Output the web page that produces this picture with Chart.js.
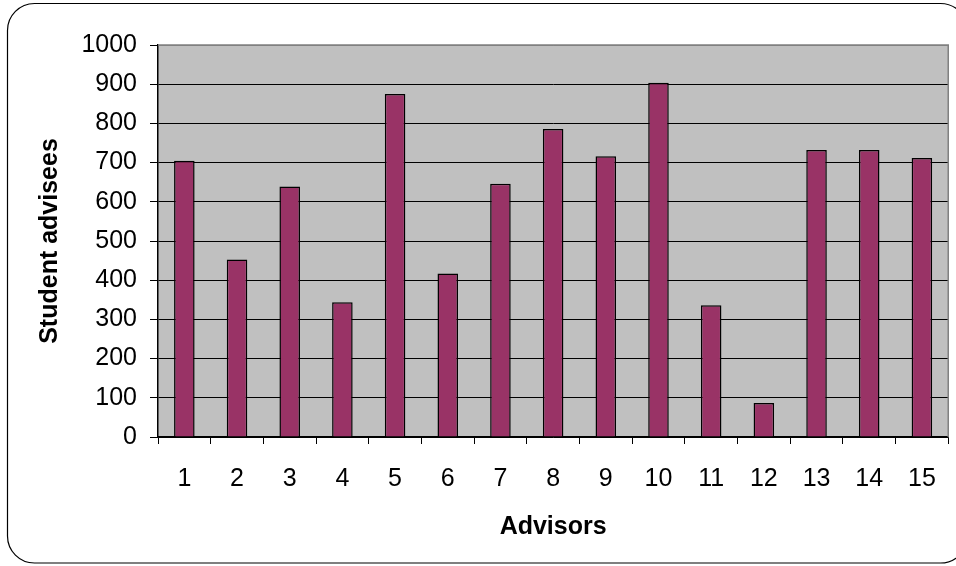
<!DOCTYPE html>
<html>
<head>
<meta charset="utf-8">
<script src="https://cdn.jsdelivr.net/npm/chart.js@4"></script>
<style>
  html, body { margin: 0; padding: 0; background: #fff; }
  #wrap { width: 956px; height: 566px; }
</style>
</head>
<body>
<div id="wrap"><canvas id="adviseeChart" width="956" height="566"></canvas></div>
<script>
// advisor numbers and how many students each one advises
const advisors = ["1", "2", "3", "4", "5", "6", "7", "8", "9", "10", "11", "12", "13", "14", "15"];
const advisees = [705, 453, 639, 344, 875, 417, 646, 786, 716, 904, 336, 87, 732, 732, 712];
const yTicks = [0, 100, 200, 300, 400, 500, 600, 700, 800, 900, 1000];

const FONT = "Arial, 'Liberation Sans', sans-serif";

// white page, grey plot area, rounded outer frame
const backdrop = {
    id: "backdrop",
    beforeDraw(chart) {
        const ctx = chart.ctx;
        const a = chart.chartArea;
        ctx.save();
        ctx.fillStyle = "#ffffff";
        ctx.fillRect(0, 0, chart.width, chart.height);
        ctx.fillStyle = "#c0c0c0";
        ctx.fillRect(a.left, a.top, a.right - a.left, a.bottom - a.top);
        ctx.restore();
    },
    afterDraw(chart) {
        const ctx = chart.ctx;
        const a = chart.chartArea;
        ctx.save();
        // plot area top/right edge
        ctx.strokeStyle = "#808080";
        ctx.lineWidth = 1.5;
        ctx.beginPath();
        ctx.moveTo(a.left, a.top);
        ctx.lineTo(a.right, a.top);
        ctx.lineTo(a.right, a.bottom);
        ctx.stroke();
        // outer frame
        ctx.strokeStyle = "#000000";
        ctx.lineWidth = 1.2;
        ctx.beginPath();
        ctx.roundRect(7.5, 3.5, 960, 559.5, 27);
        ctx.stroke();
        ctx.restore();
    }
};

const ctx = document.getElementById("adviseeChart").getContext("2d");
new Chart(ctx, {
    type: "bar",
    data: {
        labels: advisors,
        datasets: [{
            label: "Student advisees",
            data: advisees,
            backgroundColor: "#993366",
            borderColor: "#000000",
            borderWidth: 1.5,
            barPercentage: 0.39,
            categoryPercentage: 1.0
        }]
    },
    options: {
        responsive: false,
        animation: false,
        devicePixelRatio: 1,
        layout: { padding: { top: 45, right: 6, left: 30, bottom: 15 } },
        plugins: {
            legend: { display: false },
            tooltip: { enabled: false }
        },
        scales: {
            x: {
                offset: true,
                grid: {
                    offset: true,
                    drawOnChartArea: false,
                    drawTicks: true,
                    tickLength: 7,
                    tickColor: "#000000"
                },
                border: { display: true, color: "#000000", width: 1.5 },
                ticks: {
                    color: "#000000",
                    font: { family: FONT, size: 25 },
                    padding: 20,
                    maxRotation: 0
                },
                title: {
                    display: true,
                    text: "Advisors",
                    color: "#000000",
                    font: { family: FONT, size: 25, weight: "bold" },
                    padding: { top: 0, bottom: 9 }
                },
                afterFit(scale) { scale.height = 114; }
            },
            y: {
                min: 0,
                max: 1000,
                afterBuildTicks(scale) {
                    scale.ticks = yTicks.map(v => ({ value: v }));
                },
                grid: {
                    color: c => (c.tick && c.tick.value === 1000 ? "#808080" : "#000000"),
                    lineWidth: 1,
                    drawTicks: true,
                    tickLength: 8,
                    tickColor: "#000000"
                },
                border: { display: true, color: "#000000", width: 1.5 },
                ticks: {
                    color: "#000000",
                    font: { family: FONT, size: 25 },
                    padding: 13,
                    callback: v => String(v)
                },
                title: {
                    display: true,
                    text: "Student advisees",
                    color: "#000000",
                    font: { family: FONT, size: 25, weight: "bold" },
                    padding: { top: 5, bottom: 0 }
                },
                afterFit(scale) { scale.width = 128; }
            }
        }
    },
    plugins: [backdrop]
});
</script>
</body>
</html>
